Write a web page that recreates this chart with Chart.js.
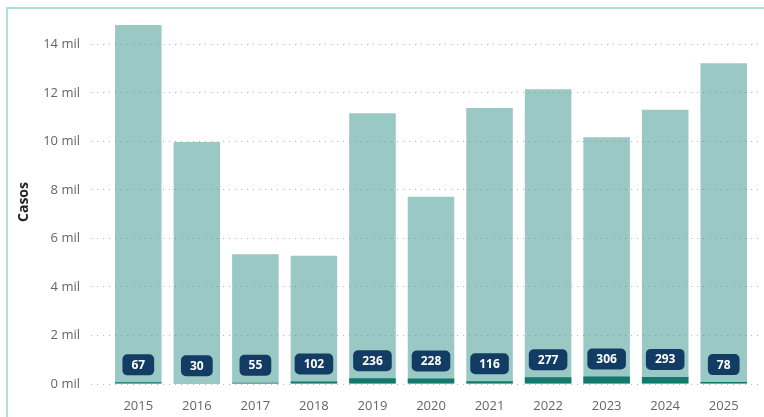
<!DOCTYPE html>
<html><head><meta charset="utf-8">
<script src="https://cdn.jsdelivr.net/npm/chart.js@4"></script>
<style>
html,body{margin:0;padding:0;background:#fff;}
#wrap{position:relative;width:764px;height:417px;overflow:hidden;background:#fff;}
#frame{position:absolute;left:6px;top:7px;width:900px;height:600px;border-left:2px solid #b0e0de;border-top:2px solid #b0e0de;box-sizing:border-box;}
canvas{position:absolute;left:0;top:0;}
</style></head><body>
<div id="wrap"><div id="frame"></div><canvas id="c" width="764" height="417"></canvas></div>
<script>
const years = ['2015','2016','2017','2018','2019','2020','2021','2022','2023','2024','2025'];
const totalCases = [14790, 9970, 5350, 5290, 11160, 7720, 11370, 12150, 10170, 11300, 13220];
const deaths = [67, 30, 55, 102, 236, 228, 116, 277, 306, 293, 78];
const yTicks = [0, 2000, 4000, 6000, 8000, 10000, 12000, 14000];

const badgePlugin = {
  id: 'badges',
  afterDraw(chart) {
    const meta = chart.getDatasetMeta(0);
    const ctx = chart.ctx;
    ctx.save();
    ctx.font = 'bold 12px "Open Sans"';
    meta.data.forEach((el, i) => {
      const txt = String(deaths[i]);
      const w = ctx.measureText(txt).width + 18;
      const h = 21;
      const x = el.x - w / 2, y = el.y - 7 - h;
      ctx.fillStyle = '#133c64';
      ctx.beginPath();
      ctx.roundRect(x, y, w, h, 5);
      ctx.fill();
      ctx.fillStyle = '#ffffff';
      ctx.textAlign = 'center';
      ctx.textBaseline = 'middle';
      ctx.fillText(txt, el.x, y + h / 2 + 0.5);
    });
    ctx.restore();
  }
};

new Chart(document.getElementById('c'), {
  type: 'bar',
  data: {
    datasets: [
      {
        label: 'Óbitos',
        data: deaths.map((v, i) => ({x: i, y: v})),
        backgroundColor: '#117a6c',
        borderWidth: 0,
        order: 0
      },
      {
        label: 'Casos',
        data: totalCases.map((v, i) => ({x: i, y: v})),
        backgroundColor: '#9ac8c4',
        borderWidth: 0,
        order: 1
      }
    ]
  },
  options: {
    responsive: false,
    animation: false,
    grouped: false,
    barPercentage: 0.795,
    categoryPercentage: 1,
    layout: {padding: {left: 12, top: 20, right: 1, bottom: 0}},
    plugins: {legend: {display: false}, tooltip: {enabled: false}},
    scales: {
      x: {
        type: 'linear',
        offset: false,
        min: -0.808,
        max: 10.671,
        afterBuildTicks: (scale) => { scale.ticks = years.map((_, i) => ({value: i})); },
        afterFit: (scale) => { scale.height = 33; },
        grid: {display: false, offset: false},
        border: {display: false},
        ticks: {
          autoSkip: false, maxRotation: 0, padding: 6,
          color: '#666', font: {family: 'Open Sans', size: 13},
          callback: (v) => years[v]
        }
      },
      y: {
        min: 0,
        max: 15000,
        afterBuildTicks: (scale) => { scale.ticks = yTicks.map(v => ({value: v})); },
        afterFit: (scale) => { scale.width = 79; },
        grid: {color: 'rgba(110,110,110,0.5)', lineWidth: 1, drawTicks: false, z: 1},
        border: {display: false, dash: [1, 5]},
        ticks: {
          padding: 11, color: '#666', font: {family: 'Open Sans', size: 13},
          callback: (v) => (v / 1000) + ' mil'
        },
        title: {display: true, text: 'Casos', color: '#252423', font: {family: 'Open Sans', size: 14, weight: 'bold'}}
      }
    }
  },
  plugins: [badgePlugin]
});
</script>
</body></html>
